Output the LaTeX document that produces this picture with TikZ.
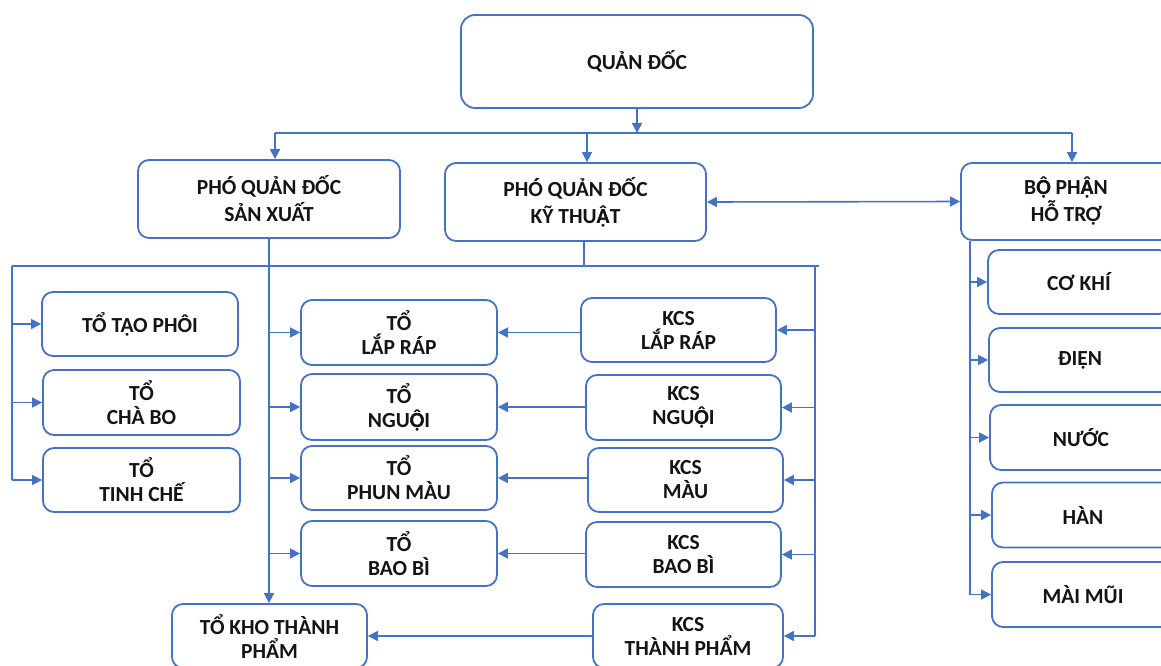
\documentclass[tikz,border=0pt]{standalone}
\usepackage{fontspec}
\setmainfont{Carlito}
\usetikzlibrary{arrows.meta}
\definecolor{bl}{HTML}{4472C4}
\newcommand{\OHD}{\ooalign{Ô\cr Ọ\cr}}
\newcommand{\AHD}{\ooalign{Â\cr Ạ\cr}}
\begin{document}
\begin{tikzpicture}[x=1pt,y=-1pt,
 box/.style={draw=bl, line width=1.8pt, rounded corners=11pt, align=center, inner sep=0pt,
   font=\fontsize{21.5}{24}\selectfont\bfseries, text=black!92},
 big/.style={font=\fontsize{21.5}{27}\selectfont\bfseries},
 sz/.style 2 args={minimum width=#1pt, minimum height=#2pt},
 ln/.style={draw=bl, line width=1.6pt},
 arr/.style={ln, -{Triangle[length=10pt,width=10pt]}},
 darr/.style={ln, {Triangle[length=10pt,width=10pt]}-{Triangle[length=10pt,width=10pt]}},
]
\useasboundingbox (0,0) rectangle (1161,666);
\clip (0,0) rectangle (1161,666);
% top level
\node[box, sz={352}{93}, rounded corners=14pt] (qd) at (637,61.5) {QUẢN ĐỐC};
\node[box, big, sz={262}{78}] (sx) at (269,199) {PHÓ QUẢN ĐỐC\\SẢN XUẤT};
\node[box, big, sz={261}{78}] (kt) at (575.5,202) {PHÓ QUẢN ĐỐC\\KỸ THU\AHD T};
\node[box, big, sz={210}{77}] (ht) at (1066,201.5) {B\OHD{} PH\AHD N\\HỖ TRỢ};
% left column
\node[box, sz={196}{64}] (tp) at (140,324) {TỔ TẠO PHÔI};
\node[box, sz={197}{65}] (cb) at (141.5,402.5) {TỔ\\CHÀ BO};
\node[box, sz={197}{64}] (tc) at (141.5,480) {TỔ\\TINH CHẾ};
% middle column
\node[box, sz={196}{65}] (lr) at (399,332.5) {TỔ\\LẮP RÁP};
\node[box, sz={196}{66}] (ng) at (399,407) {TỔ\\NGU\OHD I};
\node[box, sz={196}{64}] (pm) at (399,478) {TỔ\\PHUN MÀU};
\node[box, sz={196}{65}] (bb) at (399,553.5) {TỔ\\BAO BÌ};
\node[box, sz={195}{64}] (kho) at (269.5,636) {TỔ KHO THÀNH\\PHẨM};
% KCS column
\node[box, sz={195}{64}] (klr) at (678.5,330) {KCS\\LẮP RÁP};
\node[box, sz={195}{65}] (kng) at (683.5,407.5) {KCS\\NGU\OHD I};
\node[box, sz={195}{64}] (kmau) at (685.5,480) {KCS\\MÀU};
\node[box, sz={195}{65}] (kbb) at (683.5,554.5) {KCS\\BAO BÌ};
\node[box, sz={190}{64}] (ktp) at (688,636) {KCS\\THÀNH PHẨM};
% support column
\node[box, sz={182}{64}] (ck) at (1079,282) {CƠ KHÍ};
\node[box, sz={182}{64}] (dien) at (1080,360) {ĐIỆN};
\node[box, sz={182}{65}] (nuoc) at (1081,437.5) {NƯỚC};
\node[box, sz={182}{65}] (han) at (1083,515) {HÀN};
\node[box, sz={182}{65}] (mai) at (1083,594.5) {MÀI MŨI};
% top connectors
\coordinate (t0) at (637,133);
\coordinate (t1) at (275,133);
\coordinate (t2) at (587,133);
\coordinate (t3) at (1072,133);
\draw[arr] (qd.south) -- (t0);
\draw[ln] (t1) -- (t3);
\draw[arr] (t1) -- (t1 |- sx.north);
\draw[arr] (t2) -- (t2 |- kt.north);
\draw[arr] (t3) -- (t3 |- ht.north);
\draw[darr] (kt.east) -- (ht.west);
% second level bus
\coordinate (h0) at (12,266);
\coordinate (h1) at (819,266);
\coordinate (kd) at (584,266);
\coordinate (rb) at (815,266);
\draw[ln] (h0) -- (h1);
\draw[ln] (kd |- kt.south) -- (kd);
\draw[ln] (h0) -- (h0 |- tc.west);
\foreach \n in {tp,cb,tc} \draw[arr] (h0 |- \n.west) -- (\n.west);
\draw[arr] (sx.south) -- (sx.south |- kho.north);
\foreach \n in {lr,ng,pm,bb} \draw[arr] (sx.south |- \n.west) -- (\n.west);
% KCS to TO
\draw[arr] (klr.west |- lr.east) -- (lr.east);
\draw[arr] (kng.west |- ng.east) -- (ng.east);
\draw[arr] (kmau.west |- pm.east) -- (pm.east);
\draw[arr] (kbb.west |- bb.east) -- (bb.east);
\draw[arr] (ktp.west |- kho.east) -- (kho.east);
% right KCS bus
\draw[ln] (rb) -- (rb |- ktp.east);
\foreach \n in {klr,kng,kmau,kbb,ktp} \draw[arr] (rb |- \n.east) -- (\n.east);
% support bus
\coordinate (hb) at (970,240);
\draw[ln] (hb |- ht.south) -- (hb |- mai.west);
\foreach \n in {ck,dien,nuoc,han,mai} \draw[arr] (hb |- \n.west) -- (\n.west);
\end{tikzpicture}
\end{document}
